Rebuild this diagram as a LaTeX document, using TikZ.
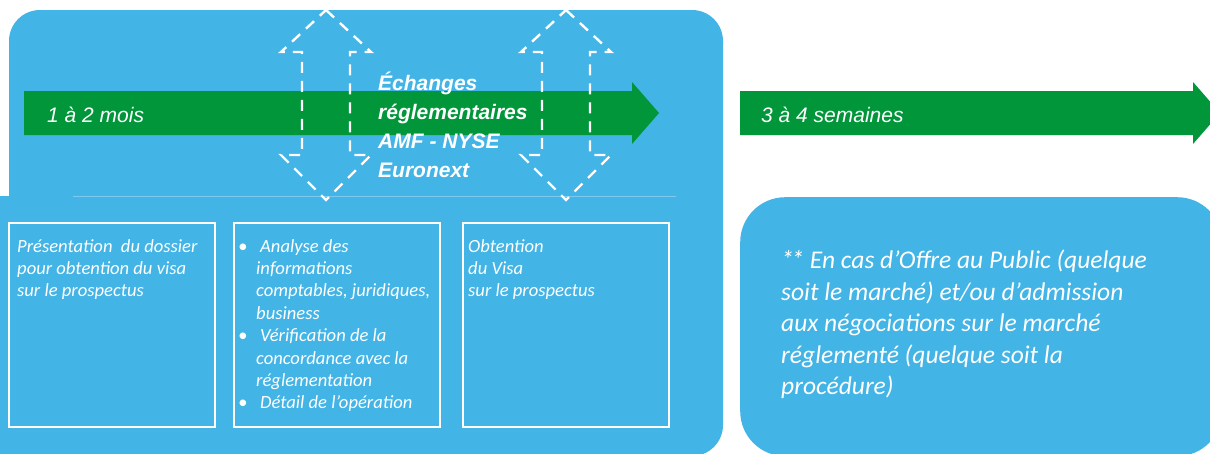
\documentclass[tikz,border=0pt]{standalone}
\usepackage{fontspec}
\setmainfont{Carlito}
\newfontfamily\timefont{Liberation Sans}
\usetikzlibrary{positioning}
\definecolor{panelBlue}{RGB}{67,180,230}
\definecolor{timeGreen}{RGB}{0,150,57}
\definecolor{lineBlue}{RGB}{125,202,240}

\begin{document}
\begin{tikzpicture}[x=1pt, y=-1pt,
    panel/.style={fill=panelBlue},
    timearrow/.style={fill=timeGreen},
    exchange/.style={draw=white, line width=2.4pt, dash pattern=on 11pt off 8pt},
    stepbox/.style={draw=white, line width=1.6pt, minimum width=206pt, minimum height=204pt, inner sep=0pt, anchor=north west},
    boxtext/.style={text=white, font=\fontsize{18.6}{22.4}\selectfont\itshape, align=left, inner sep=0pt},
    notetext/.style={text=white, font=\fontsize{25.5}{31.5}\selectfont\itshape, align=left, inner sep=0pt},
    timelabel/.style={text=white, font=\timefont\fontsize{21}{25}\selectfont\itshape, anchor=base west, inner sep=0pt},
    exchlabel/.style={text=white, font=\timefont\fontsize{21}{29}\selectfont\bfseries\itshape, align=left, anchor=north west, inner sep=0pt}]

    \useasboundingbox (0,0) rectangle (1210,453);

    % fonds bleus
    \fill[panel, rounded corners=31pt] (9,10) rectangle (723,456);
    \fill[panel] (0,196) rectangle (60,460);
    \node[panel, rounded corners=45pt, minimum width=482pt, minimum height=259pt, inner sep=0pt, anchor=north west] (note) at (740,197) {};

    % flèches de durée
    \fill[timearrow] (24,91) -- (632,91) -- (632,82) -- (659,113) -- (632,144) -- (632,135) -- (24,135) -- cycle;
    \fill[timearrow] (740,91) -- (1193,91) -- (1193,82) -- (1220,113) -- (1193,144) -- (1193,135) -- (740,135) -- cycle;
    \node[timelabel] (dur1) at (47,122) {1 à 2 mois};
    \node[timelabel] (dur2) at (761,122) {3 à 4 semaines};

    \draw[lineBlue, line width=0.8pt] (73,196) -- (676,196);

    % échanges AMF
    \foreach \cx in {326,566}
        \draw[exchange] (\cx,10) -- ++(45,42) -- ++(-21,0) -- ++(0,103) -- ++(21,0) -- (\cx,200)
            -- ++(-45,-45) -- ++(21,0) -- ++(0,-103) -- ++(-21,0) -- cycle;
    \node[exchlabel] (exch) at (378,72) {Échanges\\réglementaires\\AMF - NYSE\\Euronext};

    % étapes
    \node[stepbox] (present) at (8,222) {};
    \node[stepbox] (analyse) at (233,222) {};
    \node[stepbox] (visa) at (462,222) {};

    \node[boxtext, below right=17pt and 9pt of present.north west] (presenttext)
        {Présentation~ du dossier\\pour obtention du visa\\sur le prospectus};
    \node[boxtext, below right=17pt and 5pt of analyse.north west] (analysetext)
        {\makebox[22pt][l]{•}Analyse des\\
         \hspace*{18pt}informations\\
         \hspace*{18pt}comptables, juridiques,\\
         \hspace*{18pt}business\\
         \makebox[22pt][l]{•}Vérification de la\\
         \hspace*{18pt}concordance avec la\\
         \hspace*{18pt}réglementation\\
         \makebox[22pt][l]{•}Détail de l’opération};
    \node[boxtext, below right=17pt and 6pt of visa.north west] (visatext)
        {Obtention\\du Visa\\sur le prospectus};

    \node[notetext, below right=53pt and 41pt of note.north west] (notetxt)
        {*\kern-2.5pt* En cas d’Offre au Public (quelque\\soit le marché) et/ou d’admission\\aux négociations sur le marché\\réglementé (quelque soit la\\procédure)};
\end{tikzpicture}
\end{document}
